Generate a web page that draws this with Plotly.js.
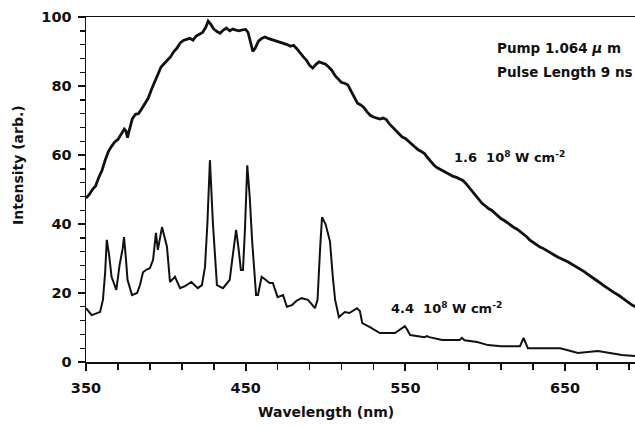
<!DOCTYPE html>
<html>
<head>
<meta charset="utf-8">
<script src="https://cdn.plot.ly/plotly-3.0.1.min.js"></script>
<style>html,body{margin:0;padding:0;background:#fff;}#chart{width:635px;height:428px;}</style>
</head>
<body>
<div id="chart"></div>
<script>
// Upper spectrum: 1.6 10^8 W cm^-2
var wlHigh = [350,352,354,356,358,360,362,364,366,368,370,372,374,375,376,377,379,381,383,385,387,389,391,393,395,397,399,401,403,405,407,409,411,413,415,417,419,421,423,425,426.5,428,430,432,434,436,438,440,442,444,446,448,450,451.5,453,454.5,456,458,460,462,464,466,468,470,472,474,476,478,480,482,484,486,488,490,492,494,496,498,500,502,504,506,508,510,512,514,516,518,520,522,524,526,528,530,532,534,536,538,540,542,544,546,548,550,552,554,556,558,560,562,564,566,568,570,572,574,576,578,580,582,584,586,588,590,592,594,596,598,600,602,604,606,608,610,612,614,616,618,620,622,624,626,628,630,632,634,636,638,640,642,644,646,648,650,652,654,656,658,660,662,664,666,668,670,672,674,676,678,680,682,684,686,688,690,692,694];
var intHigh = [47.5,48.5,50,51,53.5,55.5,58.5,61,62.5,63.8,64.5,66,67.5,67,65,67,70.5,71.8,72,73.5,75,76.5,79,81,83,85.5,86.5,87.5,88.5,90,91,92.5,93.2,93.5,93.8,93.3,94.5,95,95.5,97,98.8,98,96.5,95.8,95.3,96.2,96.8,96,96.5,96.2,96,96.3,96.4,95.5,92.5,90,91,93,93.8,94.2,93.8,93.5,93.3,93,92.5,92.2,92,91.5,91.8,90.8,89.5,88.5,87.5,86,85.2,86.3,87,86.6,86.3,85.5,84.5,83,82,81,80.8,80.3,78.5,76.5,75,74.5,73.8,72.5,71.5,71,70.6,70.4,70.7,70.3,69,68,67,66,65.2,64.8,64,63.2,62.5,61.5,61,60.4,59.2,58,57,56.3,55.8,55.2,54.8,54.3,53.8,53.5,53,52.6,51.7,50.5,49.5,48.3,47.2,46,45.3,44.5,44,43.2,42.3,41.5,41,40.3,39.6,39,38.5,37.8,37.2,36.3,35.3,34.6,34,33.4,33,32.4,31.8,31.4,30.8,30.3,29.9,29.5,29,28.4,27.9,27.3,26.8,26.2,25.5,24.9,24.2,23.5,22.9,22.2,21.7,21,20.3,19.8,19.2,18.5,17.8,17.1,16.5,16];

// Lower spectrum: 4.4 10^8 W cm^-2
var wlLow = [350,353.6,358.8,360.6,362,363,364.5,366,369,371,373,373.8,375,376,378.8,382,383.8,385.7,388,390,392,393.8,395,396.5,397.6,399,400.7,402.6,405.7,408.9,412,416,420,422.6,424.5,426,427.6,429.5,432,435.8,440,441.4,443,444,445.5,447,448.3,449.5,451,452.5,454,456.5,457.7,460,462,465,467,470,473.4,475.8,479,482,485,489,493.4,495,496.5,497.8,500,502.8,504.5,506,508.4,512,515,519.7,521.5,523,527.8,534,543.5,549.7,551,553,562,563.5,565,573,584,585.4,587,595,601.7,610,621.8,624,626.7,635,646.8,650,658,670.6,675,685.6,694];
var intLow = [15.6,13.6,14.5,18,26,35.4,31,24.7,20.9,28,33,36.2,30,23.8,19.4,20,22.3,26,26.8,27.2,29.6,37.4,32.5,36,39.1,36.5,33.4,23.2,24.7,21.4,22,23.2,21.4,22.3,27.5,40,58.5,40,22.3,21.4,23.8,29,35,38.3,33,26.7,26.7,38,57,48,35.4,19.4,19.4,24.7,24,22.9,22.9,18.8,19.4,16,16.5,17.8,18.5,18,15.6,18,32,42,40,34.9,25,18,13,14.5,14.2,15.6,14.8,11.3,10.1,8.4,8.4,10.4,9.5,7.8,7.2,7.5,7.2,6.4,6.4,7,6.3,5.8,4.9,4.6,4.6,7,4,4,4,3.6,2.6,3.2,2.9,2,1.7];

var xRange = [350, 693.8], yRange = [0, 100];
var xTick0 = 350, xDtick = 100, xMinorDtick = 20;
var yDtick = 20, yMinorDtick = 4;

var FONT = 'DejaVu Sans, Verdana, sans-serif';
var NOGRID = 'rgba(255,255,255,0)';

var traces = [
  {x: wlHigh, y: intHigh, type: 'scatter', mode: 'lines', name: '1.6 10^8 W cm^-2',
   line: {color: '#111', width: 2.8}, showlegend: false, hoverinfo: 'skip'},
  {x: wlLow, y: intLow, type: 'scatter', mode: 'lines', name: '4.4 10^8 W cm^-2',
   line: {color: '#111', width: 2}, showlegend: false, hoverinfo: 'skip'}
];

var layout = {
  width: 635, height: 428,
  margin: {l: 86, r: 0, t: 17, b: 66},
  xaxis: {
    range: xRange, tickmode: 'linear', tick0: xTick0, dtick: xDtick,
    gridcolor: NOGRID, zerolinecolor: NOGRID, showline: true, linecolor: '#111', linewidth: 1.5, mirror: true,
    ticks: 'outside', ticklen: 7, tickwidth: 2, tickcolor: '#111', ticklabelstandoff: 5,
    tickfont: {family: FONT, size: 14.5, color: '#111', weight: 700},
    minor: {dtick: xMinorDtick, tick0: xTick0, ticks: 'outside', ticklen: 6, tickwidth: 1.6, tickcolor: '#111', gridcolor: NOGRID}
  },
  yaxis: {
    range: yRange, dtick: yDtick,
    gridcolor: NOGRID, zerolinecolor: NOGRID, showline: true, linecolor: '#111', linewidth: 1.5,
    ticks: 'outside', ticklen: 7, tickwidth: 2, tickcolor: '#111', ticklabelstandoff: 3,
    tickfont: {family: FONT, size: 14.5, color: '#111', weight: 700},
    minor: {dtick: yMinorDtick, ticks: 'outside', ticklen: 5, tickwidth: 1.4, tickcolor: '#111', gridcolor: NOGRID}
  },
  annotations: [
    {text: '<b>Wavelength (nm)</b>', xref: 'paper', yref: 'paper', x: 0.437, y: -0.145,
     showarrow: false, xanchor: 'center', yanchor: 'middle', font: {family: FONT, size: 14, color: '#111'}},
    {text: '<b>Intensity (arb.)</b>', xref: 'paper', yref: 'paper', x: -0.124, y: 0.571, textangle: -90,
     showarrow: false, xanchor: 'center', yanchor: 'middle', font: {family: FONT, size: 14, color: '#111'}},
    {text: '<b>Pump 1.064 <i>μ</i> m</b>', xref: 'x', yref: 'y', x: 606, y: 91,
     showarrow: false, xanchor: 'left', yanchor: 'middle', font: {family: FONT, size: 13.5, color: '#111'}},
    {text: '<b>Pulse Length 9 ns</b>', xref: 'x', yref: 'y', x: 606, y: 84,
     showarrow: false, xanchor: 'left', yanchor: 'middle', font: {family: FONT, size: 13.5, color: '#111'}},
    {text: '<b>1.6  10<sup>8</sup> W cm<sup>-2</sup></b>', xref: 'x', yref: 'y', x: 579, y: 59.4,
     showarrow: false, xanchor: 'left', yanchor: 'middle', font: {family: FONT, size: 13, color: '#111'}},
    {text: '<b>4.4  10<sup>8</sup> W cm<sup>-2</sup></b>', xref: 'x', yref: 'y', x: 539.7, y: 15.7,
     showarrow: false, xanchor: 'left', yanchor: 'middle', font: {family: FONT, size: 13, color: '#111'}}
  ]
};

Plotly.newPlot('chart', traces, layout, {staticPlot: true});
</script>
</body>
</html>
